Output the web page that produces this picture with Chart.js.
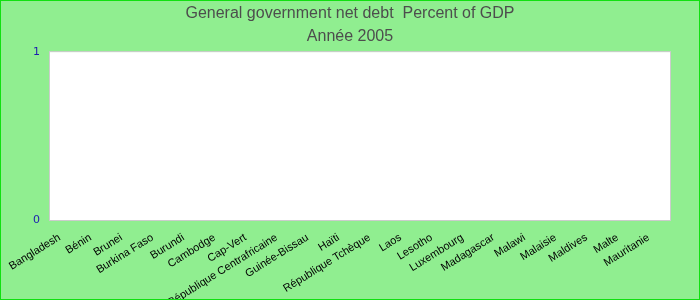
<!DOCTYPE html>
<html>
<head>
<meta charset="utf-8">
<script src="https://cdn.jsdelivr.net/npm/chart.js@4"></script>
<style>
  html, body { margin: 0; padding: 0; background: #90ee90; }
  #wrap { width: 700px; height: 300px; }
</style>
</head>
<body>
<div id="wrap"><canvas id="chart" width="700" height="300"></canvas></div>
<script>
const categories = [
    'Bangladesh', 'Bénin', 'Brunei', 'Burkina Faso', 'Burundi', 'Cambodge', 'Cap-Vert',
    'République Centrafricaine', 'Guinée-Bissau', 'Haïti', 'République Tchèque', 'Laos',
    'Lesotho', 'Luxembourg', 'Madagascar', 'Malawi', 'Malaisie', 'Maldives', 'Malte', 'Mauritanie',
];
// no values are shown for 2005
const debtValues = [
    null, null, null, null, null, null, null, null, null, null,
    null, null, null, null, null, null, null, null, null, null,
];
const yTicks = [0, 1];
const titleLines = ['General government net debt  Percent of GDP', 'Année 2005'];

// green page, white plot box, bright green frame
const framePlugin = {
    id: 'frame',
    beforeDraw(chart) {
        const { ctx, chartArea: a } = chart;
        ctx.save();
        ctx.fillStyle = '#90ee90';
        ctx.fillRect(0, 0, chart.width, chart.height);
        ctx.fillStyle = '#ffffff';
        ctx.fillRect(a.left, a.top, a.right - a.left, a.bottom - a.top);
        ctx.strokeStyle = '#cccccc';
        ctx.lineWidth = 1;
        ctx.strokeRect(a.left - 0.5, a.top - 0.5, a.right - a.left + 1, a.bottom - a.top + 1);
        ctx.restore();
    },
    afterDraw(chart) {
        const { ctx } = chart;
        ctx.save();
        ctx.strokeStyle = '#11e011';
        ctx.lineWidth = 1;
        ctx.strokeRect(0.5, 0.5, chart.width - 1, chart.height - 1);
        ctx.restore();
    },
};

new Chart(document.getElementById('chart'), {
    type: 'bar',
    data: {
        labels: categories,
        datasets: [{
            label: 'General government net debt',
            data: debtValues,
            backgroundColor: '#3366cc',
        }],
    },
    options: {
        responsive: false,
        animation: false,
        layout: { padding: 0 },
        plugins: {
            legend: { display: false },
            tooltip: { enabled: false },
            title: {
                display: true,
                text: titleLines,
                color: '#4d4d4d',
                font: { family: '"Liberation Sans", Arial, sans-serif', size: 16, weight: 'normal', lineHeight: 1.44 },
                padding: { top: 2, bottom: 4 },
            },
        },
        scales: {
            x: {
                offset: true,
                grid: { display: false, drawTicks: false },
                border: { display: false },
                ticks: {
                    color: '#000000',
                    font: { family: '"Liberation Sans", Arial, sans-serif', size: 11 },
                    minRotation: 32,
                    maxRotation: 32,
                    autoSkip: false,
                    padding: 11,
                    labelOffset: -6,
                },
                afterFit(scale) { scale.height = 80; },
            },
            y: {
                min: 0,
                max: 1,
                grid: { display: false, drawTicks: false },
                border: { display: false },
                ticks: {
                    color: '#1c1cb0',
                    font: { family: '"DejaVu Sans", sans-serif', size: 11 },
                    padding: 10,
                },
                afterBuildTicks(scale) { scale.ticks = yTicks.map(v => ({ value: v })); },
                afterFit(scale) { scale.width = 50; },
            },
            // empty right margin so the title stays centred on the whole picture
            yRight: {
                position: 'right',
                grid: { display: false, drawTicks: false },
                border: { display: false },
                ticks: { display: false },
                afterFit(scale) { scale.width = 30; },
            },
        },
    },
    plugins: [framePlugin],
});
</script>
</body>
</html>
